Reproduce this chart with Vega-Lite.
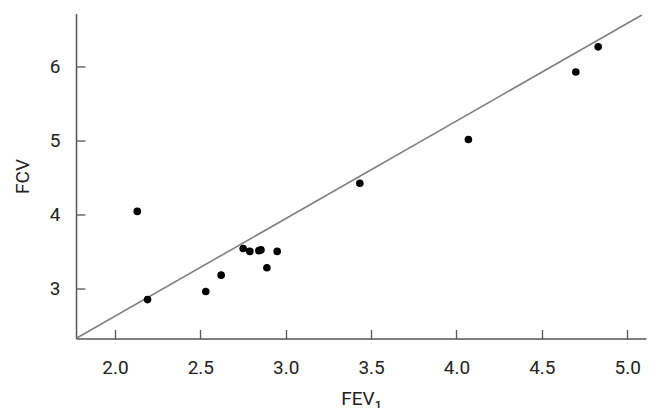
{
  "$schema": "https://vega.github.io/schema/vega-lite/v6.json",
  "autosize": "none",
  "padding": {"left": 76, "top": 13.5, "right": 13, "bottom": 81},
  "width": 570,
  "height": 325,
  "background": "white",
  "config": {
    "view": {"stroke": null},
    "font": "Roboto",
    "axis": {
      "grid": false,
      "domainColor": "#555555",
      "domainWidth": 1.5,
      "tickColor": "#555555",
      "tickWidth": 1.3,
      "tickSize": -9,
      "labelFont": "Roboto",
      "labelFontSize": 19,
      "labelColor": "#222222",
      "titleFont": "Roboto",
      "titleFontSize": 19,
      "titleFontWeight": "normal",
      "titleColor": "#222222"
    }
  },
  "datasets": {
    "points": [
      {"fev1": 2.131, "fcv": 4.04},
      {"fev1": 2.191, "fcv": 2.85},
      {"fev1": 2.532, "fcv": 2.96},
      {"fev1": 2.622, "fcv": 3.18},
      {"fev1": 2.751, "fcv": 3.54},
      {"fev1": 2.79, "fcv": 3.5},
      {"fev1": 2.843, "fcv": 3.51},
      {"fev1": 2.855, "fcv": 3.52},
      {"fev1": 2.89, "fcv": 3.28},
      {"fev1": 2.95, "fcv": 3.5},
      {"fev1": 3.434, "fcv": 4.42},
      {"fev1": 4.07, "fcv": 5.01},
      {"fev1": 4.699, "fcv": 5.92},
      {"fev1": 4.83, "fcv": 6.26}
    ],
    "fit": [
      {"fev1": 1.772, "fcv": 2.325},
      {"fev1": 5.086, "fcv": 6.69}
    ]
  },
  "layer": [
    {
      "data": {"name": "fit"},
      "mark": {"type": "line", "color": "#808080", "strokeWidth": 1.6, "clip": true},
      "encoding": {
        "x": {
          "field": "fev1", "type": "quantitative",
          "scale": {"domain": [1.772, 5.11], "nice": false, "zero": false},
          "axis": {"title": "FEV₁", "values": [2.0, 2.5, 3.0, 3.5, 4.0, 4.5, 5.0], "format": ".1f", "labelPadding": 29, "titlePadding": 12}
        },
        "y": {
          "field": "fcv", "type": "quantitative",
          "scale": {"domain": [2.325, 6.71], "nice": false, "zero": false},
          "axis": {"title": "FCV", "values": [3, 4, 5, 6], "format": "d", "labelPadding": 25, "titlePadding": 17}
        }
      }
    },
    {
      "data": {"name": "points"},
      "mark": {"type": "circle", "color": "black", "opacity": 1, "size": 58},
      "encoding": {
        "x": {"field": "fev1", "type": "quantitative"},
        "y": {"field": "fcv", "type": "quantitative"}
      }
    }
  ]
}
